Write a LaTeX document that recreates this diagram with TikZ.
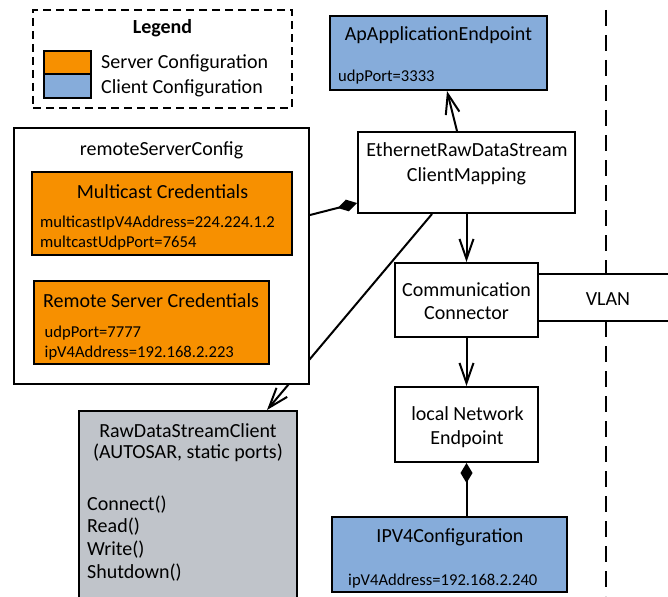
\documentclass[tikz,border=0pt]{standalone}
\usepackage{fontspec}
\setmainfont{Carlito}
\usepackage{xcolor}
\usepackage{tikz}
\usetikzlibrary{arrows.meta,positioning,backgrounds}

\definecolor{srvorange}{HTML}{F79000}
\definecolor{cliblue}{HTML}{86ACDA}
\definecolor{rawgray}{HTML}{C0C4CA}

\tikzset{
  box/.style = {draw, line width=2pt, inner sep=0pt},
  big/.style = {font=\fontsize{20}{24}\selectfont, inner sep=0pt},
  small/.style = {font=\fontsize{16.6}{20}\selectfont, inner sep=0pt},
  opentip/.style = {line width=2pt, -{Straight Barb[length=20pt,width=14pt]}},
  comptip/.style = {line width=2pt, -{Diamond[length=20pt,width=12pt]}}
}

\begin{document}
\begin{tikzpicture}[x=1pt, y=-1pt]
\useasboundingbox (0,0) rectangle (668,596);

% legend
\node [box, dash pattern=on 8pt off 5pt, minimum width=259pt, minimum height=98pt] (legend) at (162.5,59) {};
\node [big, font=\fontsize{20}{24}\selectfont\bfseries, anchor=base] (legendtitle) at (162.5,34) {Legend};
\node [box, fill=srvorange, minimum width=47pt, minimum height=23pt] (srvkey) at (67.5,62.5) {};
\node [box, fill=cliblue, minimum width=47pt, minimum height=24pt] (clikey) at (67.5,86) {};
\node [big, anchor=base west] (srvtext) at (101,69) {Server Configuration};
\node [big, anchor=base west] (clitext) at (101,94) {Client Configuration};

% remote server config
\node [box, fill=white, minimum width=295pt, minimum height=256pt] (rsc) at (161.5,256) {};
\node [big, anchor=base] (rsctitle) at (161.5,155) {remoteServerConfig};
\node [box, fill=srvorange, minimum width=260pt, minimum height=83pt] (mcast) at (162,213.5) {};
\node [big, anchor=base] (mcasttitle) at (162.5,198) {Multicast Credentials};
\node [small, anchor=base west] (mcastip) at (40,227) {multicastIpV4Address=224.224.1.2};
\node [small, anchor=base west] (mcastport) at (40,247) {multcastUdpPort=7654};
\node [box, fill=srvorange, minimum width=235pt, minimum height=83pt] (rcred) at (151.5,322.5) {};
\node [big, anchor=base] (rcredtitle) at (151,307) {Remote Server Credentials};
\node [small, anchor=base west] (rcredport) at (44.5,337) {udpPort=7777};
\node [small, anchor=base west] (rcredip) at (44.5,357) {ipV4Address=192.168.2.223};

% client side
\node [box, fill=cliblue, minimum width=217pt, minimum height=74pt] (app) at (438.5,53) {};
\node [big, anchor=base] (apptitle) at (438.5,41) {ApApplicationEndpoint};
\node [small, anchor=base west] (appport) at (338,82) {udpPort=3333};
\node [box, fill=white, minimum width=217pt, minimum height=81pt] (eth) at (466.5,172.5) {};
\node [big, anchor=base] (ethtext1) at (467,157) {EthernetRawDataStream};
\node [big, anchor=base] (ethtext2) at (466.5,181) {ClientMapping};
\node [box, fill=white, minimum width=143pt, minimum height=74pt] (comm) at (466.5,300) {};
\node [big, anchor=base] (commtext1) at (466.5,296) {Communication};
\node [big, anchor=base] (commtext2) at (466.5,319) {Connector};
\node [box, fill=white, minimum width=143pt, minimum height=75pt] (lne) at (466.5,424.5) {};
\node [big, anchor=base] (lnetext1) at (467.5,420) {local Network};
\node [big, anchor=base] (lnetext2) at (467,444) {Endpoint};
\node [box, fill=cliblue, minimum width=235pt, minimum height=75pt] (ipv4) at (449.5,554.5) {};
\node [big, anchor=base] (ipv4title) at (450,542) {IPV4Configuration};
\node [small, anchor=base west] (ipv4addr) at (348,585) {ipV4Address=192.168.2.240};

% raw data stream client
\node [box, fill=rawgray, minimum width=218pt, minimum height=196pt] (raw) at (188,509) {};
\node [big, anchor=base] (rawtext1) at (188,437) {RawDataStreamClient};
\node [big, anchor=base] (rawtext2) at (188,458) {(AUTOSAR, static ports)};
\node [big, anchor=base west] (rawconnect) at (87,510) {Connect()};
\node [big, anchor=base west] (rawread) at (87,532) {Read()};
\node [big, anchor=base west] (rawwrite) at (87,555) {Write()};
\node [big, anchor=base west] (rawshut) at (87,578) {Shutdown()};

% VLAN and separator
\coordinate (vlantop) at (668,274);
\coordinate (vlanbot) at (668,321);
\coordinate (septop) at (606,10);
\coordinate (sepbot) at (606,596);
\node [big, anchor=base] (vlan) at (608,305) {VLAN};
\draw [line width=2pt] ([yshift=26pt]comm.east) -- (vlantop);
\draw [line width=2pt] ([yshift=-21pt]comm.east) -- (vlanbot);
\draw [line width=2pt, dash pattern=on 16pt off 9pt] (septop) -- (septop |- vlantop);
\draw [line width=2pt, dash pattern=on 16pt off 9pt] (sepbot |- vlanbot) -- (sepbot);

% connectors
\begin{pgfonlayer}{background}
\draw [opentip] ([xshift=-34.5pt]eth.south) -- ([xshift=79pt]raw.north);
\end{pgfonlayer}
\draw [opentip] ([xshift=-9.5pt]eth.north) -- ([xshift=8.5pt]app.south);
\draw [comptip] ([yshift=41pt]rsc.east) -- ([yshift=-30.5pt]eth.west);
\draw [opentip] (eth.south) -- (comm.north);
\draw [opentip] (comm.south) -- (lne.north);
\draw [comptip] ([xshift=17pt]ipv4.north) -- (lne.south);
\end{tikzpicture}
\end{document}
